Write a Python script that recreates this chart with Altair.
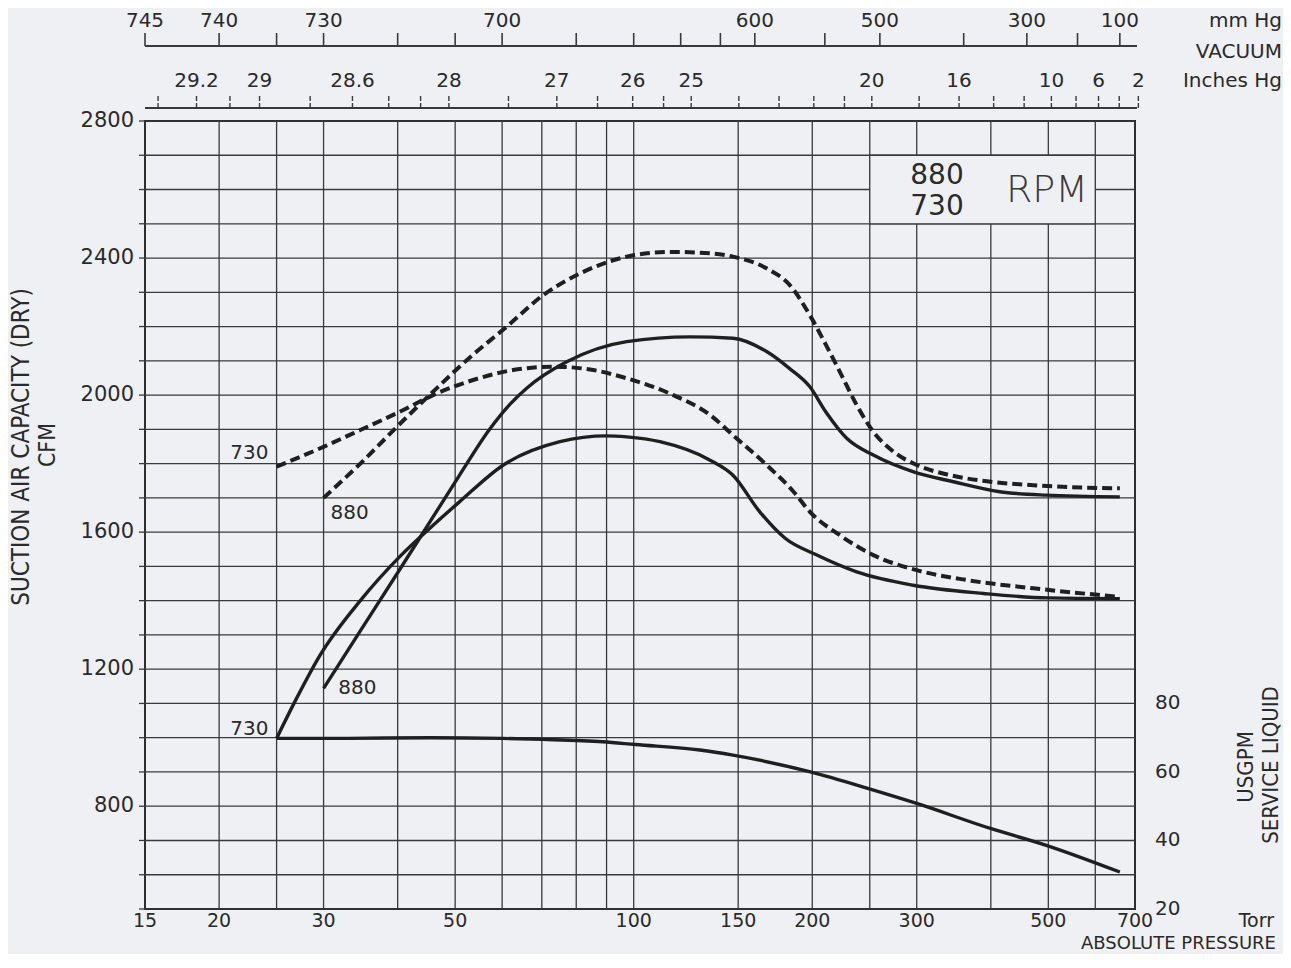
import altair as alt
import pandas as pd

# ---------------- data ----------------
# upper dashed curve (880 RPM)
dash880_torr = [30, 34.6, 40.4, 45.9, 52.3, 61.1, 70.4, 81.2, 97.3, 115, 134.5, 147, 167.5, 183.3, 198, 211, 222.6, 237.6, 253.5, 274, 300, 342, 400, 472, 573, 660]
dash880_cfm = [1700, 1800, 1917, 2010, 2102, 2200, 2292, 2355, 2404, 2418, 2414, 2404, 2370, 2321, 2234, 2146, 2068, 1971, 1893, 1835, 1796, 1766, 1747, 1737, 1730, 1728]

# lower dashed curve (730 RPM)
dash730_torr = [25, 30, 34.6, 40.4, 45.9, 53.6, 62.6, 73.2, 85.5, 97.3, 116.6, 134.5, 147, 167.5, 186, 198, 222.6, 253.5, 300, 365, 472, 660]
dash730_cfm = [1791, 1849, 1898, 1952, 2000, 2044, 2073, 2083, 2073, 2049, 2000, 1942, 1883, 1796, 1718, 1660, 1591, 1533, 1489, 1460, 1436, 1411]

# upper solid curve (880 RPM)
solid880_torr = [30, 34.6, 40.4, 45.3, 50.8, 57.2, 62, 66, 77.1, 97.3, 124.4, 147, 167.5, 183, 198, 211, 228.6, 253.5, 296.4, 346, 414, 496, 660]
solid880_cfm = [1144, 1312, 1493, 1629, 1765, 1901, 1975, 2020, 2097, 2156, 2170, 2166, 2127, 2078, 2025, 1950, 1874, 1825, 1776, 1747, 1718, 1708, 1703]

# lower solid curve (730 RPM)
solid730_torr = [25, 27, 29.6, 34.6, 40.4, 45.9, 50.9, 60.3, 75.1, 90, 97.3, 110.7, 134.5, 147, 163, 180, 203.6, 237.6, 296, 389, 499, 660]
solid730_cfm = [998, 1114, 1241, 1400, 1530, 1620, 1689, 1796, 1864, 1881, 1878, 1864, 1810, 1766, 1660, 1582, 1533, 1484, 1445, 1421, 1408, 1406]

# service liquid (USGPM)
liquid_torr = [25, 33, 45.4, 60, 70.3, 88.7, 100.6, 129.3, 147, 198.6, 248, 300, 399.5, 496, 660]
liquid_gpm = [69.8, 69.8, 70.0, 69.8, 69.5, 68.8, 68.0, 66.4, 64.9, 60.0, 55.2, 50.8, 43.5, 38.6, 30.8]

# axes
x_grid = [15, 20, 25, 30, 40, 50, 60, 70, 80, 90, 100, 150, 200, 250, 300, 400, 500, 600, 700]
x_labels = [15, 20, 30, 50, 100, 150, 200, 300, 500, 700]
y_grid = list(range(500, 2801, 100))
y_labels = [800, 1200, 1600, 2000, 2400, 2800]
gpm_labels = [20, 40, 60, 80]

mm_ticks = [745, 740, 735, 730, 720, 710, 700, 680, 660, 640, 620, 600, 550, 500, 400, 300, 200, 100]
mm_labels = [745, 740, 730, 700, 600, 500, 300, 100]
in_ticks = [29.3, 29.2, 29.1, 29, 28.8, 28.6, 28.4, 28.2, 28, 27.5, 27, 26.5, 26, 25.5, 25, 24, 23, 22, 21, 20, 18, 16, 14, 12, 10, 8, 6, 4, 2]
in_labels = ["29.2", "29", "28.6", "28", "27", "26", "25", "20", "16", "10", "6", "2"]

curve_labels = ["730", "880", "880", "730"]
curve_label_torr = [22.5, 33.2, 34.2, 22.5]
curve_label_cfm = [1830, 1655, 1144, 1024]

box_torr = [250, 600]
box_cfm = [2500, 2700]

# ---------------- styles ----------------
FONT = "DejaVu Sans"
COND = "Liberation Sans Narrow, DejaVu Sans Condensed, Arial Narrow, DejaVu Sans"
BG = "#eef0f4"
GRID = "#3a3a3a"
INK = "#1f1f1f"
TXT = "#2a2a2a"

xscale = alt.Scale(type="log", domain=[15, 700], nice=False)
yscale = alt.Scale(domain=[500, 2800], nice=False, zero=False)
gscale = alt.Scale(domain=[20, 250], nice=False, zero=False)

# ---------------- tables ----------------
def curve_df(name, dashed, xs, ys):
    return pd.DataFrame({"torr": xs, "cfm": ys, "curve": name, "dashed": dashed})

curves = pd.concat([
    curve_df("d880", True, dash880_torr, dash880_cfm),
    curve_df("d730", True, dash730_torr, dash730_cfm),
    curve_df("s880", False, solid880_torr, solid880_cfm),
    curve_df("s730", False, solid730_torr, solid730_cfm),
])
solid_df = curves[~curves["dashed"]]
dash_df = curves[curves["dashed"]]
liquid_df = pd.DataFrame({"torr": liquid_torr, "gpm": liquid_gpm})

xgrid_df = pd.DataFrame({"torr": x_grid})
xlab_df = pd.DataFrame({"torr": x_labels, "label": [str(v) for v in x_labels]})
ygrid_df = pd.DataFrame({"cfm": y_grid})
ylab_df = pd.DataFrame({"cfm": y_labels, "label": [str(v) for v in y_labels]})
glab_df = pd.DataFrame({"gpm": gpm_labels, "label": [str(v) for v in gpm_labels]})

mm_tick_df = pd.DataFrame({"torr": [760 - v for v in mm_ticks]})
mm_lab_df = pd.DataFrame({"torr": [760 - v for v in mm_labels], "label": [str(v) for v in mm_labels]})
in_tick_df = pd.DataFrame({"torr": [760 - v * 25.4 for v in in_ticks]})
in_lab_df = pd.DataFrame({"torr": [760 - float(v) * 25.4 for v in in_labels], "label": in_labels})
lab_df = pd.DataFrame({"torr": curve_label_torr, "cfm": curve_label_cfm, "label": curve_labels})
box_df = pd.DataFrame({"x1": [box_torr[0]], "x2": [box_torr[1]], "y1": [box_cfm[0]], "y2": [box_cfm[1]]})

X = lambda f="torr:Q": alt.X(f, scale=xscale, axis=None)
Y = lambda f="cfm:Q": alt.Y(f, scale=yscale, axis=None)

# grid
vgrid = alt.Chart(xgrid_df).mark_rule(color=GRID, strokeWidth=1.3).encode(
    x=X(), y=alt.value(0), y2=alt.value("height"))
hgrid = alt.Chart(ygrid_df).mark_rule(color=GRID, strokeWidth=1.3).encode(
    y=Y(), x=alt.value(0), x2=alt.value("width"))
yticks = alt.Chart(ygrid_df).mark_rule(color=GRID, strokeWidth=1.3).encode(
    y=Y(), x=alt.value(-6), x2=alt.value(0))
xlabels = alt.Chart(xlab_df).mark_text(font=FONT, fontSize=19, color=TXT, baseline="middle").encode(
    x=X(), y=alt.value(800), text="label:N")
ylabels = alt.Chart(ylab_df).mark_text(font=FONT, fontSize=21, color=TXT, baseline="middle",
                                       align="right").encode(
    y=Y(), x=alt.value(-11), text="label:N")

box = alt.Chart(box_df).mark_rect(fill=BG, stroke=GRID, strokeWidth=1.3).encode(
    x=X("x1:Q"), x2="x2:Q", y=Y("y1:Q"), y2="y2:Q")

solid = alt.Chart(solid_df).mark_line(color=INK, strokeWidth=3.4, interpolate="monotone").encode(
    x=X(), y=Y(), detail="curve:N")
dashed = alt.Chart(dash_df).mark_line(color=INK, strokeWidth=4, strokeDash=[10, 5],
                                      interpolate="monotone").encode(
    x=X(), y=Y(), detail="curve:N")

curve_text = alt.Chart(lab_df).mark_text(font=FONT, fontSize=20, color=TXT).encode(
    x=X(), y=Y(), text="label:N")

# top vacuum scales
mm_base = alt.Chart(mm_tick_df).mark_rule(color=GRID, strokeWidth=1.6).encode(
    x=alt.value(0), x2=alt.value(992), y=alt.value(-75))
mm_ticks_l = alt.Chart(mm_tick_df).mark_rule(color=GRID, strokeWidth=1.6).encode(
    x=X(), y=alt.value(-88), y2=alt.value(-75))
mm_text = alt.Chart(mm_lab_df).mark_text(font=FONT, fontSize=20, color=TXT, baseline="middle").encode(
    x=X(), y=alt.value(-100), text="label:N")
in_base = alt.Chart(in_tick_df).mark_rule(color=GRID, strokeWidth=1.6).encode(
    x=alt.value(0), x2=alt.value(992), y=alt.value(-13))
in_ticks_l = alt.Chart(in_tick_df).mark_rule(color=GRID, strokeWidth=1.4, strokeDash=[5, 2]).encode(
    x=X(), y=alt.value(-25), y2=alt.value(-13))
in_text = alt.Chart(in_lab_df).mark_text(font=FONT, fontSize=20, color=TXT, baseline="middle").encode(
    x=X(), y=alt.value(-40), text="label:N")

def ptext(txt, px, py, size=20, align="center", angle=0, font=FONT, weight="normal", color=TXT):
    return alt.Chart(pd.DataFrame({"t": [txt]})).mark_text(
        font=font, fontSize=size, align=align, baseline="middle", angle=angle,
        fontWeight=weight, color=color).encode(x=alt.value(px), y=alt.value(py), text="t:N")

texts = [
    ptext("mm  Hg", 1137, -100, align="right"),
    ptext("VACUUM", 1137, -69, align="right"),
    ptext("Inches  Hg", 1137, -40, align="right"),
    ptext("Torr", 1129, 800, size=19, align="right"),
    ptext("ABSOLUTE   PRESSURE", 1131, 823, size=18, align="right"),
    ptext("SUCTION  AIR  CAPACITY  (DRY)", -123, 326, size=24, angle=270, font=COND),
    ptext("CFM", -97, 324, size=23, angle=270, font=COND),
    ptext("USGPM", 1101, 646, size=22, angle=270, font=COND),
    ptext("SERVICE  LIQUID", 1126, 644, size=22, angle=270, font=COND),
    ptext("880", 792, 55, size=28),
    ptext("730", 792, 86, size=28),
    ptext("RPM", 902, 70, size=38, weight=300, color="#3a3a3a"),
]

inner = alt.layer(vgrid, hgrid, yticks, box, xlabels, ylabels, solid, dashed, curve_text,
                  mm_base, mm_ticks_l, mm_text, in_base, in_ticks_l, in_text, *texts)

liquid_line = alt.Chart(liquid_df).mark_line(color=INK, strokeWidth=3.4, interpolate="monotone").encode(
    x=X(), y=alt.Y("gpm:Q", scale=gscale, axis=None))
liquid_labels = alt.Chart(glab_df).mark_text(font=FONT, fontSize=20, color=TXT, align="left",
                                             baseline="middle").encode(
    x=alt.value(1010), y=alt.Y("gpm:Q", scale=gscale, axis=None), text="label:N")
liquid = alt.layer(liquid_line, liquid_labels)

chart = alt.layer(inner, liquid).resolve_scale(y="independent").properties(
    width=990, height=788,
    autosize=alt.AutoSizeParams(type="none"),
    padding={"left": 137, "top": 113, "right": 148, "bottom": 45},
    background=BG,
).configure_view(stroke="#1a1a1a", strokeWidth=2)

chart.save("out.html", embed_options={"renderer": "svg", "actions": False})
